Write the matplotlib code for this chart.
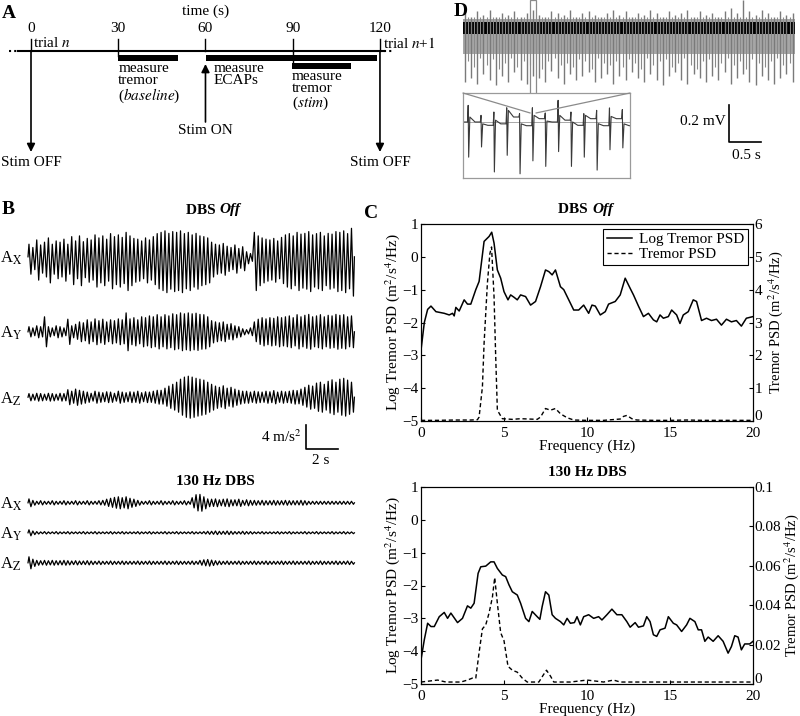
import numpy as np
import matplotlib
matplotlib.use("Agg")
import matplotlib.pyplot as plt
from matplotlib.patches import Rectangle, ConnectionPatch
from matplotlib.transforms import ScaledTranslation

plt.rcParams['font.family'] = ['Liberation Serif', 'DejaVu Serif']
plt.rcParams['mathtext.fontset'] = 'stix'
plt.rcParams['font.size'] = 11

W, H = 800, 716

# ---------------------------------------------------------------------
# Panel A: trial timeline (s)
# ---------------------------------------------------------------------
TIMELINE_TICKS = [0, 30, 60, 90, 120]
BASELINE_WINDOW = (30, 50.5)
ECAP_WINDOW = (60.3, 119)
STIM_WINDOW = (89.7, 110)
STIM_ON_TIME = 60
STIM_OFF_TIMES = [0, 120]

# ---------------------------------------------------------------------
# Panel B: accelerometer traces, peak-to-peak amplitude per tremor cycle (m/s^2)
# ---------------------------------------------------------------------
TRACE_DURATION = 20.4  # s

AX_OFF = [5.0, 3.7, 6.7, 4.7, 5.8, 7.5, 5.0, 6.3,
          5.8, 7.0, 5.0, 8.0, 6.3, 8.3, 6.0, 7.3, 6.7, 8.7,
          7.5, 8.3, 7.0, 9.2, 8.0, 8.7, 7.7, 9.7, 8.3, 7.3,
          7.0, 6.3, 7.5, 6.7, 8.0,
          9.2, 9.7, 10.3, 9.3, 10.0, 9.7, 10.3, 9.2, 9.7, 8.7, 9.3, 8.3, 8.0, 7.5,
          5.8, 5.0, 4.7, 5.3, 4.2, 3.7, 4.7, 3.3, 4.0, 2.0,
          1.3, 9.7, 8.3, 7.5, 7.0, 6.7, 7.3, 6.3, 7.7,
          8.7, 9.2, 8.3, 9.7, 9.0, 9.3, 10.0, 8.7, 9.2, 9.7, 8.3, 9.3, 9.0, 10.0,
          9.7, 10.3, 9.2, 11.3]
AY_OFF = [1.7, 1.3, 2.0, 1.7, 5.0, 1.7, 1.3, 2.0, 1.7, 1.3,
          4.2, 2.0,
          2.5, 3.3, 3.0, 4.0, 3.3, 4.3, 3.7, 4.2, 3.3, 4.0, 3.7, 4.3, 4.0, 6.3,
          4.3, 4.7, 4.0, 5.0, 4.7, 5.3, 5.0, 5.7, 5.0, 5.7, 5.3, 6.0, 5.7, 6.3,
          6.0, 6.3, 6.0, 6.2, 5.8, 5.7, 5.0,
          3.7, 3.3, 3.0, 3.3, 2.5, 2.7, 2.0, 1.7, 1.0, 0.7,
          1.3, 3.3, 4.2, 4.7, 4.3, 4.7, 4.5, 5.0, 4.7,
          5.0, 5.3, 4.7, 5.7, 5.0, 5.5, 5.8, 5.0, 5.3, 5.7, 5.0, 5.5, 5.3, 5.8,
          5.5, 5.7, 5.0, 5.3]
AZ_OFF = [1.2, 1.0, 1.3, 1.2, 1.0, 1.3, 1.2, 1.0, 1.3, 1.2,
          2.5, 2.0, 2.7, 2.3, 2.0,
          1.7, 1.3, 2.0, 1.7, 1.5, 1.8, 1.7, 1.3, 2.0, 1.7, 1.5, 1.8, 1.7, 2.0,
          1.5, 1.8, 1.7, 2.0, 2.3,
          2.3, 3.0, 3.7, 4.3, 5.0, 6.0, 6.7, 7.0, 6.7, 6.3, 6.0, 5.7, 5.0, 4.3,
          3.7, 3.3, 3.8, 3.0, 3.3, 2.7, 2.3, 2.0, 2.0,
          1.7, 2.0, 1.8, 1.7, 2.0, 1.8, 2.2, 1.7, 2.0, 1.8, 2.0, 2.3, 2.2,
          2.7, 3.3, 4.0, 3.7, 4.7, 5.0, 4.3, 5.3, 5.8, 5.0, 6.0, 6.3, 5.7, 5.0]
AX_ON = [1.3, 0.8,
         0.5, 0.7, 0.5, 0.5, 0.7, 0.5, 0.5, 0.7, 0.5, 0.5, 0.7, 0.5, 0.5, 0.7, 0.5, 0.5, 0.7,
         0.8, 1.2, 1.5, 1.8, 2.0, 1.7, 2.0, 1.5, 1.2, 0.8,
         0.5, 0.5, 0.7, 0.5, 0.5, 0.7, 0.5, 0.5, 0.7, 0.5, 0.5, 0.7, 0.5,
         1.7, 2.7, 2.8, 2.0, 1.3,
         1.2, 1.3, 1.0, 1.2, 1.3, 1.0, 1.0, 1.2, 0.8, 1.0, 0.8, 0.8,
         0.7, 0.8, 0.7, 0.7, 0.8, 0.7, 0.7, 0.8, 0.7, 0.7, 0.7, 0.8, 0.7,
         0.5, 0.5, 0.5, 0.5, 0.5, 0.5, 0.5, 0.5, 0.5, 0.5, 0.5, 0.5]
AY_ON = [1.0, 0.6, 0.4, 0.3, 0.4, 0.3, 0.3, 0.4, 0.3, 0.3, 0.4, 0.3, 0.3, 0.3,
         0.4, 0.3, 0.3, 0.4, 0.3, 0.3, 0.3, 0.4, 0.3, 0.3, 0.4, 0.3, 0.3, 0.3,
         0.4, 0.3, 0.3, 0.4, 0.3, 0.3, 0.3, 0.4, 0.3, 0.3, 0.4, 0.3, 0.3, 0.3,
         0.4, 0.3, 0.3, 0.4, 0.5, 0.5, 0.6, 0.5, 0.5, 0.6, 0.5, 0.4, 0.4, 0.5,
         0.4, 0.4, 0.3, 0.3, 0.4, 0.3, 0.3, 0.3, 0.4, 0.3, 0.3, 0.4, 0.3, 0.3,
         0.3, 0.4, 0.3, 0.3, 0.4, 0.3, 0.3, 0.3, 0.4, 0.3, 0.3, 0.4, 0.3, 0.3]
AZ_ON = [2.0, 1.2, 0.8, 0.7, 0.8, 0.7, 0.8, 0.7, 0.7, 0.8, 0.7, 0.6, 0.7, 0.6,
         0.6, 0.7, 0.6, 0.5, 0.6, 0.5, 0.5, 0.6, 0.5, 0.5, 0.6, 0.5, 0.5, 0.5,
         0.6, 0.5, 0.5, 0.6, 0.5, 0.5, 0.5, 0.6, 0.5, 0.5, 0.6, 0.5, 0.5, 0.5,
         0.6, 0.5, 0.8, 1.0, 1.1, 0.9, 0.7, 0.6, 0.5, 0.6, 0.5, 0.5, 0.6, 0.5,
         0.5, 0.5, 0.6, 0.5, 0.5, 0.6, 0.5, 0.5, 0.5, 0.6, 0.5, 0.5, 0.6, 0.5,
         0.5, 0.5, 0.6, 0.5, 0.5, 0.6, 0.5, 0.5, 0.5, 0.6, 0.5, 0.5, 0.6, 0.5]

# ---------------------------------------------------------------------
# Panel C: tremor power spectra
# ---------------------------------------------------------------------
F_OFF_LOG = [0, 0.2, 0.4, 0.6, 0.9, 1.4, 1.7, 1.9, 2.0, 2.1, 2.3, 2.6, 2.8, 3.0,
             3.3, 3.5, 3.8, 4.1, 4.26, 4.4, 4.6, 4.8, 5.0, 5.24, 5.4, 5.6, 5.8,
             6.0, 6.3, 6.6, 6.9, 7.2, 7.5, 7.7, 7.9, 8.1, 8.4, 8.6, 8.9, 9.2,
             9.5, 9.8, 10.1, 10.3, 10.5, 10.8, 11.1, 11.3, 11.7, 12.0, 12.3,
             12.6, 12.8, 13.1, 13.4, 13.7, 14.0, 14.2, 14.4, 14.6, 14.9, 15.1,
             15.4, 15.6, 15.8, 16.1, 16.4, 16.6, 16.9, 17.2, 17.5, 17.8, 18.1,
             18.4, 18.7, 19.0, 19.3, 19.6, 20.0]
LOG_OFF = [-2.84, -2.0, -1.6, -1.5, -1.67, -1.72, -1.77, -1.72, -1.8, -1.54,
           -1.65, -1.31, -1.44, -1.44, -1.0, -0.75, 0.47, 0.62, 0.75, 0.42,
           -0.40, -0.65, -1.06, -1.31, -1.16, -1.23, -1.31, -1.16, -1.21, -1.47,
           -1.36, -0.91, -0.40, -0.45, -0.55, -0.40, -0.91, -1.0, -1.31, -1.62,
           -1.62, -1.47, -1.72, -1.47, -1.5, -1.77, -1.67, -1.44, -1.36, -1.16,
           -0.65, -0.96, -1.16, -1.5, -1.82, -1.72, -1.92, -1.98, -1.77, -1.87,
           -1.82, -1.62, -1.77, -2.03, -1.77, -1.67, -1.31, -1.36, -1.94, -1.87,
           -1.94, -1.9, -2.08, -1.9, -1.98, -1.94, -2.11, -1.87, -1.82]
F_OFF_LIN = [0, 1, 2, 3, 3.4, 3.5, 3.7, 3.8, 4.0, 4.15, 4.25, 4.4, 4.5, 4.6, 4.9,
             5.5, 6.0, 6.5, 7.0, 7.2, 7.5, 7.8, 8.1, 8.4, 8.8, 9.2, 10, 11, 12.0,
             12.2, 12.4, 12.7, 13, 14, 15, 16, 17, 18, 19, 20]
LIN_OFF = [0.02, 0.02, 0.03, 0.03, 0.04, 0.12, 1.04, 2.36, 4.2, 5.1, 5.3, 3.79,
           1.96, 0.33, 0.07, 0.05, 0.07, 0.06, 0.05, 0.12, 0.38, 0.33, 0.38, 0.22,
           0.1, 0.03, 0.02, 0.02, 0.06, 0.14, 0.17, 0.07, 0.03, 0.02, 0.02, 0.03,
           0.02, 0.02, 0.02, 0.02]

F_ON_LOG = [0, 0.2, 0.4, 0.6, 0.8, 1.1, 1.4, 1.6, 1.8, 2.2, 2.5, 2.8, 3.0, 3.2,
            3.44, 3.6, 3.9, 4.2, 4.4, 4.6, 4.9, 5.1, 5.3, 5.5, 5.8, 6.0, 6.3, 6.5,
            6.7, 7.0, 7.16, 7.3, 7.5, 7.7, 7.9, 8.1, 8.4, 8.6, 8.8, 9.0, 9.24,
            9.4, 9.6, 9.8, 10.1, 10.4, 10.7, 10.9, 11.2, 11.5, 11.8, 12.1, 12.4,
            12.6, 12.9, 13.1, 13.4, 13.6, 13.8, 14.0, 14.2, 14.4, 14.7, 14.9,
            15.2, 15.4, 15.7, 16.0, 16.2, 16.5, 16.7, 16.9, 17.1, 17.3, 17.6,
            17.9, 18.2, 18.5, 18.7, 18.9, 19.1, 19.3, 19.5, 19.8, 20.0]
LOG_ON = [-4.26, -3.65, -3.15, -3.25, -3.25, -2.95, -2.82, -3.0, -2.84, -3.13,
          -3.0, -2.62, -2.69, -2.54, -1.63, -1.43, -1.41, -1.28, -1.28, -1.48,
          -1.68, -1.73, -1.98, -2.19, -2.29, -2.54, -3.0, -3.1, -2.79, -2.95,
          -3.03, -2.64, -2.19, -2.29, -2.89, -3.0, -3.1, -3.2, -3.0, -3.15,
          -3.13, -2.95, -3.2, -2.95, -2.89, -3.0, -2.95, -3.05, -2.89, -2.72,
          -2.89, -2.89, -3.1, -3.27, -3.13, -3.27, -3.23, -2.95, -3.1, -3.5,
          -3.55, -3.35, -3.3, -2.95, -3.15, -3.2, -3.4, -3.2, -3.0, -3.1,
          -3.35, -3.35, -3.7, -3.57, -3.7, -3.53, -3.7, -4.06, -3.86, -3.53,
          -3.57, -3.96, -3.78, -3.78, -3.7]
F_ON_LIN = [0, 1, 1.5, 2.4, 2.8, 3.1, 3.3, 3.5, 3.7, 3.9, 4.1, 4.3, 4.44, 4.6,
            4.8, 5.0, 5.24, 5.5, 5.8, 6.1, 6.4, 7.1, 7.4, 7.56, 7.8, 8.0, 9, 10,
            11, 11.6, 12, 13, 14, 15, 16, 17, 18, 19, 20]
LIN_ON = [0.001, 0.002, 0.001, 0.001, 0.002, 0.003, 0.003, 0.016, 0.028, 0.030,
          0.036, 0.044, 0.054, 0.041, 0.026, 0.022, 0.009, 0.007, 0.006, 0.003,
          0.001, 0.001, 0.005, 0.007, 0.004, 0.001, 0.001, 0.002, 0.001, 0.002,
          0.001, 0.001, 0.001, 0.001, 0.001, 0.001, 0.001, 0.001, 0.001]

# ---------------------------------------------------------------------
# Panel D: ECAP recording (mV)
# ---------------------------------------------------------------------
REC_DURATION = 5.19  # s
D_DOWN = [-0.29, -0.27, -0.30, -0.25, -0.28, -0.31, -0.26, -0.29, -0.24, -0.28,
          -0.30, -0.26, -0.27, -0.29, -0.23, -0.27, -0.30, -0.25, -0.28, -0.26,
          -0.24, -0.29, -0.27, -0.25, -0.30, -0.26, -0.28, -0.24, -0.27, -0.29,
          -0.25, -0.28, -0.31, -0.26, -0.24, -0.28, -0.30, -0.25, -0.27, -0.29,
          -0.26, -0.28, -0.24, -0.30, -0.27, -0.25, -0.29, -0.31, -0.26, -0.28,
          -0.30, -0.27, -0.25, -0.29]
D_UP = [0.08, 0.06, 0.09, 0.07, 0.10, 0.06, 0.08, 0.07, 0.09, 0.06,
        0.08, 0.10, 0.07, 0.06, 0.09, 0.08, 0.07, 0.10, 0.06, 0.08,
        0.09, 0.07, 0.06, 0.08, 0.10, 0.07, 0.09, 0.06, 0.08, 0.07,
        0.10, 0.08, 0.06, 0.09, 0.07, 0.08, 0.10, 0.06, 0.09, 0.07,
        0.08, 0.06, 0.09, 0.11, 0.08, 0.15, 0.09, 0.07, 0.10, 0.08,
        0.06, 0.09, 0.07, 0.08]
D_MID = [-0.18, -0.21, -0.16, -0.20, -0.17, -0.22, -0.19, -0.16, -0.21, -0.18,
         -0.20, -0.17, -0.22, -0.18, -0.16, -0.20, -0.19, -0.21, -0.17, -0.18,
         -0.22, -0.16, -0.19, -0.20, -0.18, -0.21, -0.17, -0.19, -0.22, -0.16,
         -0.20, -0.18, -0.17, -0.21, -0.19, -0.16, -0.20, -0.22, -0.18, -0.17,
         -0.21, -0.19, -0.16, -0.20, -0.18, -0.22, -0.17, -0.19, -0.21, -0.18,
         -0.16, -0.20, -0.19]
D_CORE = (-0.14, 0.05)
D_DARK = (-0.03, 0.03)
ZOOM_WINDOW = (1.05, 1.14)

STIM_RATE = 130.0  # Hz
INSET_UP = [0.09, 0.036, 0.054, 0.077, 0.045, 0.077, 0.049, 0.117, 0.054,
            0.045, 0.063, 0.076, 0.067]
INSET_DOWN = [-0.19, -0.135, -0.27, -0.18, -0.28, -0.21, -0.24, -0.16, -0.24,
              -0.19, -0.26, -0.15, -0.14]
INSET_AFTER = [0.027, -0.01, 0.01, 0.063, -0.01, 0.036, 0.005, 0.036, 0.0,
               0.036, -0.009, 0.03, -0.01]
INSET_MID = [0.0, -0.018, -0.01, 0.027, -0.02, 0.018, 0.0, 0.01, -0.018,
             0.018, -0.02, 0.018, -0.02]


def px_axes(fig, x0, y0, x1, y1):
    return fig.add_axes([x0 / W, 1 - y1 / H, (x1 - x0) / W, (y1 - y0) / H])


def zigzag(amps, frac, duration):
    step = duration / len(amps)
    t, y = [0.0], [0.0]
    for i, a in enumerate(amps):
        t += [(i + 0.25) * step, (i + 0.75) * step]
        y += [a * frac, -a * (1 - frac)]
    t.append(duration)
    y.append(0.0)
    return np.array(t), np.array(y)


fig = plt.figure(figsize=(W / 100, H / 100), dpi=100)

for lab, (x, y) in zip("ABCD", [(2, 13), (2, 210), (364, 213), (454, 12)]):
    fig.text(x / W, 1 - y / H, lab, fontsize=14, fontweight='bold',
             ha='left', va='center')

# ---------------------------------------------------------------------
# A
# ---------------------------------------------------------------------
ax_a = px_axes(fig, 0, 0, 430, 185)
sc = 2.908  # px per second
ax_a.set_xlim(-31 / sc, (430 - 31) / sc)
ax_a.set_ylim(185, 0)
ax_a.axis('off')

ax_a.plot([-4.5, 121.5], [51, 51], color='k', lw=1.5)
ax_a.plot([-7.5, -4.5], [51, 51], color='k', lw=1.5, ls=(0, (1, 1.5)))
ax_a.plot([121.5, 124.5], [51, 51], color='k', lw=1.5, ls=(0, (1, 1.5)))
for t in TIMELINE_TICKS:
    low = 56 if t == BASELINE_WINDOW[0] else 51
    ax_a.plot([t, t], [39, low], color='k', lw=1)
    ax_a.text(t, 29, str(t), ha='center', va='center')
ax_a.plot([90, 90], [51, 64], color='k', lw=1)
ax_a.text(60, 11, 'time (s)', ha='center', va='center')

for (a, b), ytop in [(BASELINE_WINDOW, 55), (ECAP_WINDOW, 55), (STIM_WINDOW, 63)]:
    ax_a.add_patch(Rectangle((a, ytop), b - a, 6, color='k', lw=0))

ax_a.text(30, 62, 'measure\ntremor\n($\\mathit{baseline}$)', ha='left', va='top',
          linespacing=0.95)
ax_a.text(62.9, 62, 'measure\nECAPs', ha='left', va='top', linespacing=0.95)
ax_a.text(89.7, 70, 'measure\ntremor\n($\\mathit{stim}$)', ha='left', va='top',
          linespacing=0.95)
ax_a.text(0.7, 43, 'trial $n$', ha='left', va='center')
ax_a.text(121, 43, 'trial $n$+$\\mathit{1}$', ha='left', va='center')

arrow = dict(arrowstyle='-|>', color='k', lw=1.2, mutation_scale=12,
             shrinkA=0, shrinkB=0)
for t in STIM_OFF_TIMES:
    ax_a.annotate('', xy=(t, 152), xytext=(t, 51), arrowprops=arrow)
    ax_a.text(t, 163, 'Stim OFF', ha='center', va='center')
ax_a.annotate('', xy=(STIM_ON_TIME, 64), xytext=(STIM_ON_TIME, 122),
              arrowprops=arrow)
ax_a.text(STIM_ON_TIME, 131, 'Stim ON', ha='center', va='center')

# ---------------------------------------------------------------------
# B
# ---------------------------------------------------------------------
ax_b = px_axes(fig, 0, 195, 400, 600)
ax_b.set_xlim(-28 / 16, (400 - 28) / 16)
ax_b.set_ylim(0, 405 / 6)
ax_b.axis('off')

traces = [(AX_OFF, 0.42, 57.2, 'X'), (AY_OFF, 0.5, 44.7, 'Y'),
          (AZ_OFF, 0.5, 33.8, 'Z'), (AX_ON, 0.5, 16.2, 'X'),
          (AY_ON, 0.5, 11.2, 'Y'), (AZ_ON, 0.5, 6.2, 'Z')]
for amps, frac, base, axis_name in traces:
    t, y = zigzag(amps, frac, TRACE_DURATION)
    ax_b.plot(t, y + base, color='k', lw=0.9)
    ax_b.text(-1.06, base - 0.3, 'A$_\\mathrm{%s}$' % axis_name, ha='center',
              va='center', fontsize=12)

ax_b.text(11.94, 65, 'DBS ', fontweight='bold', ha='right', va='center')
ax_b.text(11.94, 65, 'Off', fontweight='bold', fontstyle='italic', ha='left',
          va='center')
ax_b.text(11.7, 19.7, '130 Hz DBS', fontweight='bold', ha='center', va='center')

ax_b.plot([17.375, 17.375, 19.375], [29.2, 25.2, 25.2], color='k', lw=1.2)
ax_b.text(17.1, 27.3, '4 m/s$^2$', ha='right', va='center')
ax_b.text(18.3, 23.2, '2 s', ha='center', va='center')


# ---------------------------------------------------------------------
# C
# ---------------------------------------------------------------------
def psd_panel(box, f_log, log_vals, f_lin, lin_vals, rmax, rticks, rlabels,
              title_parts, legend, rpad):
    ax = px_axes(fig, *box)
    axr = ax.twinx()
    l1, = ax.plot(f_log, log_vals, color='k', lw=1.1)
    l2, = axr.plot(f_lin, lin_vals, color='k', lw=1.0, ls=(0, (3, 2)))
    ax.set_xlim(0, 20)
    ax.set_ylim(-5, 1)
    axr.set_ylim(0, rmax)
    ax.set_xticks([0, 5, 10, 15, 20])
    ax.set_yticks([-5, -4, -3, -2, -1, 0, 1])
    axr.set_yticks(rticks)
    axr.set_yticklabels(rlabels)
    for a in (ax, axr):
        a.tick_params(direction='in', length=3, labelsize=11, pad=2)
        for s in a.spines.values():
            s.set_linewidth(0.8)
    axr.tick_params(axis='y', pad=1)
    ax.tick_params(axis='x', pad=4)
    # lift the right-hand "0" a little so it clears the "20" below it
    zero_lab = axr.get_yticklabels()[0]
    zero_lab.set_transform(zero_lab.get_transform() +
                           ScaledTranslation(0, 4 / 72, fig.dpi_scale_trans))
    ax.set_xlabel('Frequency (Hz)', labelpad=0)
    ax.set_ylabel('Log Tremor PSD (m$^2$/s$^4$/Hz)', labelpad=0)
    axr.set_ylabel('Tremor PSD (m$^2$/s$^4$/Hz)', labelpad=rpad, fontsize=10.5)
    if len(title_parts) == 2:
        ax.text(10.3, 1.45, title_parts[0], fontweight='bold', ha='right',
                va='center')
        ax.text(10.3, 1.45, title_parts[1], fontweight='bold',
                fontstyle='italic', ha='left', va='center')
    else:
        ax.text(10.0, 1.45, title_parts[0], fontweight='bold', ha='center',
                va='center')
    if legend:
        leg = axr.legend([l1, l2], ['Log Tremor PSD', 'Tremor PSD'],
                         loc='upper right', fancybox=False, framealpha=1,
                         edgecolor='k', fontsize=11, handlelength=1.6,
                         borderaxespad=0.3, borderpad=0.25, labelspacing=0.1,
                         handletextpad=0.5)
        leg.get_frame().set_linewidth(0.8)
    return ax, axr


psd_panel((421, 224, 753, 421), F_OFF_LOG, LOG_OFF, F_OFF_LIN, LIN_OFF, 6,
          [0, 1, 2, 3, 4, 5, 6], ['0', '1', '2', '3', '4', '5', '6'],
          ['DBS ', 'Off'], True, 3)
psd_panel((421, 487, 753, 684), F_ON_LOG, LOG_ON, F_ON_LIN, LIN_ON, 0.1,
          [0, 0.02, 0.04, 0.06, 0.08, 0.1],
          ['0', '0.02', '0.04', '0.06', '0.08', '0.1'],
          ['130 Hz DBS'], False, 1)

# ---------------------------------------------------------------------
# D
# ---------------------------------------------------------------------
ax_d = px_axes(fig, 455, 0, 800, 185)
ax_d.set_xlim(-8 / 64, 337 / 64)
ax_d.set_ylim(-157 / 185, 28 / 185)
ax_d.axis('off')

ax_d.fill_between([0, REC_DURATION], D_CORE[0], D_CORE[1], color='#a6a6a6', lw=0)
spike_t = np.linspace(0.03, REC_DURATION - 0.04, len(D_DOWN))
ax_d.vlines(spike_t, D_DOWN, D_UP, color='#7a7a7a', lw=1.0)
ax_d.vlines(spike_t[:-1] + np.diff(spike_t) / 2, D_MID, D_CORE[1] + 0.01,
            color='#8a8a8a', lw=0.8)
ax_d.fill_between([0, REC_DURATION], D_DARK[0], D_DARK[1], color='#000000', lw=0)

rect_bottom = -85 / 185
ax_d.add_patch(Rectangle((ZOOM_WINDOW[0], rect_bottom),
                         ZOOM_WINDOW[1] - ZOOM_WINDOW[0], 28 / 185 - rect_bottom,
                         fill=False, edgecolor='#8a8a8a', lw=0.9))

ax_d.plot([4.16, 4.16, 4.66], [-0.416, -0.616, -0.616], color='k', lw=1.2)
ax_d.text(4.1, -0.508, '0.2 mV', ha='right', va='center')
ax_d.text(4.43, -0.69, '0.5 s', ha='center', va='center')

ax_in = px_axes(fig, 463, 93, 630, 178)
ax_in.set_xlim(0, 0.1)
ax_in.set_ylim(-56 / 185, 29 / 185)
ax_in.set_xticks([])
ax_in.set_yticks([])
for s in ax_in.spines.values():
    s.set_color('#9a9a9a')
    s.set_linewidth(0.9)
ax_in.axhline(0, color='#9a9a9a', lw=0.6)

period = 1 / STIM_RATE
tt, yy = [0.0], [0.0]
prev = 0.0
for i in range(len(INSET_UP)):
    ts = 0.0032 + i * period
    tt += [ts - 0.0005, ts - 0.0001, ts + 0.0002, ts + 0.0009, ts + 0.0040]
    yy += [prev, INSET_UP[i], INSET_DOWN[i], INSET_AFTER[i], INSET_MID[i]]
    prev = INSET_MID[i]
tt.append(0.1)
yy.append(prev)
ax_in.plot(tt, yy, color='#3a3a3a', lw=0.8)

for xa, xb in [(ZOOM_WINDOW[0], 0.0), (ZOOM_WINDOW[1], 0.1)]:
    con = ConnectionPatch(xyA=(xa, rect_bottom), coordsA=ax_d.transData,
                          xyB=(xb, 29 / 185), coordsB=ax_in.transData,
                          color='#8a8a8a', lw=0.9)
    fig.add_artist(con)

fig.savefig('out.png', dpi=100)
